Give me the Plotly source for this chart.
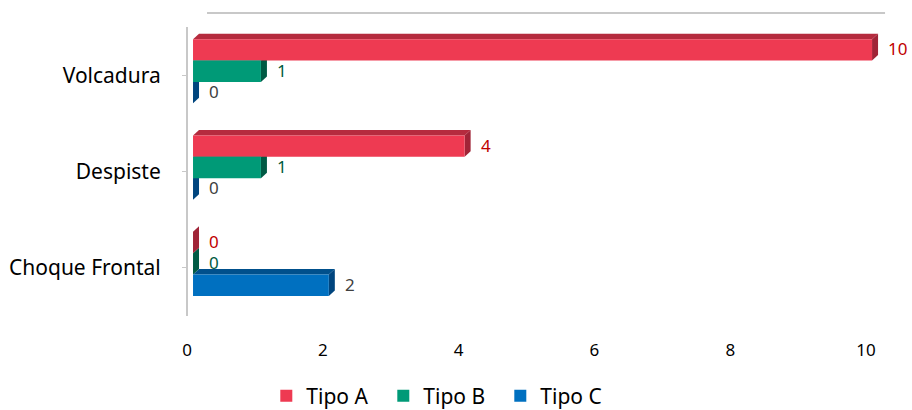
import plotly.graph_objects as go

# ---- data ----
categories = ["Choque Frontal", "Despiste", "Volcadura"]
series_names = ["Tipo A", "Tipo B", "Tipo C"]
tipo_a = [0, 4, 10]
tipo_b = [0, 1, 1]
tipo_c = [2, 0, 0]
x_ticks = [0, 2, 4, 6, 8, 10]

# ---- style ----
front_cols = ["#EE3A52", "#009A77", "#0070C0"]
top_cols = ["#B52B3E", "#00694F", "#00508C"]
side_cols = ["#A02437", "#005A44", "#00457E"]
label_cols = ["#C00000", "#005A3E", "#404040"]
FONT = "Noto Sans"

L, R, T, B = 188, 6, 27, 94
W, H = 912, 410
x_range = [-0.074, 10.5]
y_range = [-0.5, 2.5]
px_x = (W - L - R) / (x_range[1] - x_range[0])
px_y = (H - T - B) / (y_range[1] - y_range[0])
bar_w = 0.222
group_shift = 0.041
offsets = [bar_w, 0.0, -bar_w]
dx = 6 / px_x
dy = 5.5 / px_y

values = [tipo_a, tipo_b, tipo_c]

fig = go.Figure()
for s, (name, vals) in enumerate(zip(series_names, values)):
    ys = [i + group_shift + offsets[s] for i in range(len(categories))]
    fig.add_trace(go.Bar(
        orientation="h", x=vals, y=ys, width=bar_w, name=name,
        marker=dict(color=front_cols[s], line=dict(width=0)),
        hoverinfo="x+name",
    ))

shapes = []
# draw lower series first so upper bars cover them
for s in [2, 1, 0]:
    vals = values[s]
    for i, v in enumerate(vals):
        yc = i + group_shift + offsets[s]
        y0, y1 = yc - bar_w / 2, yc + bar_w / 2
        shapes.append(dict(
            type="path", xref="x", yref="y", layer="below",
            path=f"M 0 {y1} L {v} {y1} L {v+dx} {y1+dy} L {dx} {y1+dy} Z",
            fillcolor=top_cols[s], line=dict(width=0)))
        shapes.append(dict(
            type="path", xref="x", yref="y", layer="below",
            path=f"M {v} {y0} L {v} {y1} L {v+dx} {y1+dy} L {v+dx} {y0+dy} Z",
            fillcolor=side_cols[s], line=dict(width=0)))

# back-wall top edge
shapes.append(dict(type="line", xref="x", yref="paper",
                   x0=14 / px_x, x1=x_ticks[-1] + 13 / px_x,
                   y0=1 + 14 / (H - T - B), y1=1 + 14 / (H - T - B),
                   line=dict(color="#C8C8C8", width=2)))

annotations = []
for s, vals in enumerate(values):
    for i, v in enumerate(vals):
        yc = i + group_shift + offsets[s]
        annotations.append(dict(
            x=v, y=yc, xref="x", yref="y", text=str(v), showarrow=False,
            xanchor="left", yanchor="middle", xshift=14, yshift=1,
            font=dict(family=FONT, size=17, color=label_cols[s])))

fig.update_layout(
    width=W, height=H,
    margin=dict(l=L, r=R, t=T, b=B, autoexpand=False),
    paper_bgcolor="white", plot_bgcolor="white",
    barmode="overlay",
    shapes=shapes, annotations=annotations,
    showlegend=True,
    legend=dict(orientation="h", xref="container", yref="container",
                x=0.292, xanchor="left", y=14 / H, yanchor="middle",
                font=dict(family=FONT, size=21, color="#000000"),
                entrywidth=72, entrywidthmode="pixels",
                itemwidth=30, tracegroupgap=0),
    xaxis=dict(range=x_range, tickvals=x_ticks, ticktext=[str(t) for t in x_ticks],
               showgrid=False, zeroline=False, showline=False, ticks="",
               automargin=False,
               ticklabelshift=-6, ticklabelstandoff=22,
               tickfont=dict(family=FONT, size=17, color="#000000")),
    yaxis=dict(range=y_range, tickvals=list(range(len(categories))), ticktext=categories,
               showgrid=False, zeroline=False, showline=True, linecolor="#C8C8C8",
               linewidth=2, ticks="outside", ticklen=4, tickcolor="#C8C8C8",
               automargin=False, ticklabelstandoff=17,
               tickfont=dict(family=FONT, size=21, color="#000000")),
)

fig.write_html("out.html")
